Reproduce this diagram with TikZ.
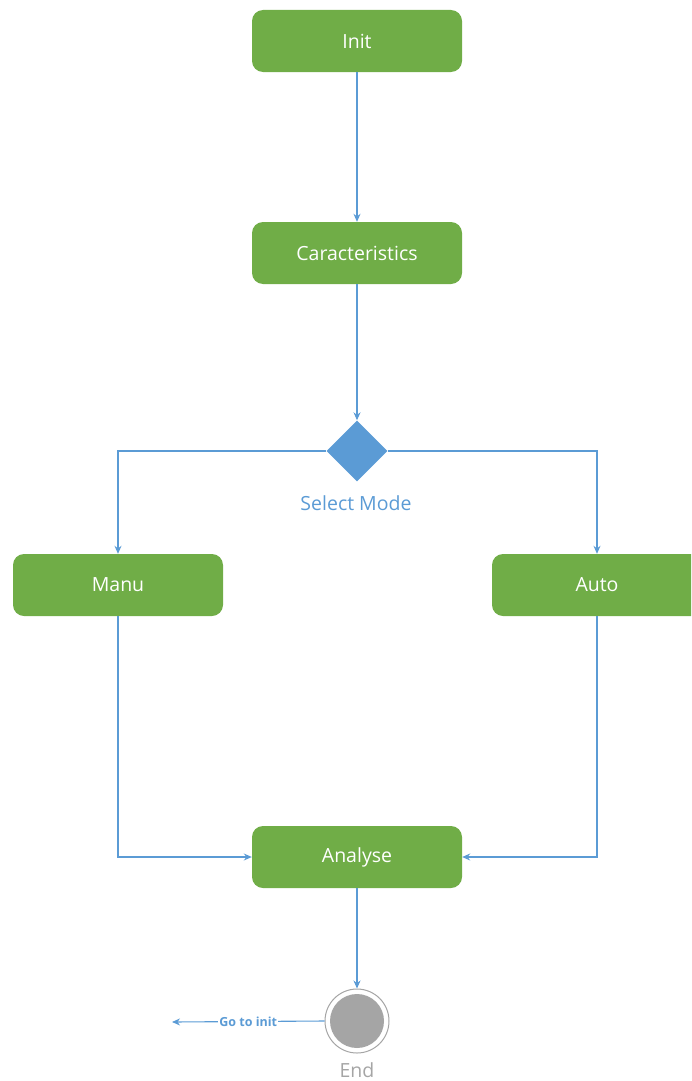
\documentclass[tikz,border=0pt]{standalone}
\usepackage{fontspec}
\setmainfont{Open Sans}
\usetikzlibrary{shapes.geometric,arrows.meta}
\definecolor{actgreen}{HTML}{70AD47}
\definecolor{flowblue}{HTML}{5B9BD5}
\definecolor{endgray}{HTML}{A5A5A5}
\tikzset{
  labelfont/.style={font=\fontsize{19.5}{23}\selectfont},
  activity/.style={fill=actgreen, draw=none, rounded corners=11pt, minimum width=210pt,
    minimum height=62pt, text=white, labelfont, inner sep=0pt},
  flow/.style={draw=flowblue, line width=1.1pt, -{Stealth[length=8pt,width=7pt]}},
}
\begin{document}
\begin{tikzpicture}[x=1pt,y=-1pt]
\useasboundingbox (0,0) rectangle (691,1081);
\clip (0,0) rectangle (691,1081);

% activities
\node[activity] (init) at (357,41) {Init};
\node[activity] (carac) at (357,253) {Caracteristics};
\node[activity] (manu) at (118,585) {Manu};
\node[activity] (auto) at (597,585) {Auto};
\node[activity] (analyse) at (357,857) {Analyse};

% decision
\node[diamond, fill=flowblue, draw=none, minimum width=61pt, minimum height=61pt, inner sep=0pt]
  (mode) at (357,451) {};
\node[text=flowblue, labelfont] (modelbl) at (356,503) {Select Mode};

% final state
\node[circle, draw=endgray, line width=1pt, fill=white, minimum size=64pt, inner sep=0pt]
  (end) at (357,1021) {};
\node[circle, fill=endgray, minimum size=54pt, inner sep=0pt] (endin) at (357,1021) {};
\node[text=endgray, labelfont, anchor=base, inner sep=0pt] (endlbl) at (357,1077) {End};

\coordinate (goto) at (172,1022);

% connectors
\draw[flow] (init) -- (carac);
\draw[flow] (carac) -- (mode);
\draw[flow] (mode.west) -| (manu.north);
\draw[flow] (mode.east) -| (auto.north);
\draw[flow] (manu.south) |- (analyse.west);
\draw[flow] (auto.south) |- (analyse.east);
\draw[flow] (analyse) -- (end);
\draw[flow] (end.west) -- node[fill=white, inner sep=1pt, text=flowblue,
  font=\fontsize{12.5}{14}\selectfont\bfseries] (gotolbl) {Go to init} (goto);
\end{tikzpicture}
\end{document}
